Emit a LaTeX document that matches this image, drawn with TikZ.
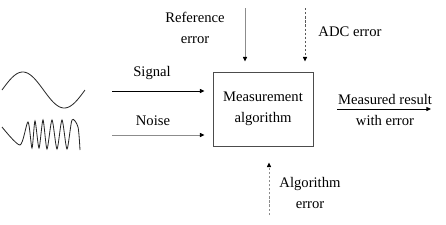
\documentclass[tikz,border=0pt]{standalone}
\usepackage{fontspec}
\setmainfont{Liberation Serif}
\usetikzlibrary{arrows.meta, positioning}
\tikzset{
  algobox/.style={rectangle, draw=black!70, thick, fill=white,
                  minimum width=3cm, minimum height=2.22cm,
                  inner sep=2pt, align=center},
  arr/.style={-{Triangle[length=4pt, width=3.5pt, color=black]}, thick, black},
  greyarr/.style={arr, black!45},
  dasharr/.style={arr, black!65, dash pattern=on 2pt off 1.5pt},
  lbl/.style={align=center, inner sep=0pt},
  wave/.style={black!85, line width=0.7pt},
}
\begin{document}
\begin{tikzpicture}[x=0.03cm, y=-0.03cm, font=\fontsize{12.5}{18}\selectfont]
  \useasboundingbox (0,0) rectangle (446,225);
  %% Input waveforms
  \draw[wave] plot[variable=\t, domain=0:1, samples=80]
    ({2 + 83*\t}, {90 - 18*sin(360*\t)});
  \draw[wave] plot[smooth, tension=0.45] coordinates {
    (2,127) (20,145) (28,122) (32,148) (35,121) (39,148) (43,120)
    (47,149) (52,120) (57,149) (62,120) (67,149) (72,120) (78,127) (80,150)};
  %% Measurement block
  \node[algobox] (algo) at (263,109) {Measurement\\algorithm};
  %% Inputs
  \coordinate (sig) at (112,91);
  \coordinate (noi) at (112,135);
  \draw[arr, shorten >=0.24cm] (sig) -- (sig -| algo.west);
  \draw[greyarr, shorten >=0.24cm] (noi) -- (noi -| algo.west);
  \node[lbl] (siglbl) at (152,73) {Signal};
  \node[lbl] (noilbl) at (153,121) {Noise};
  %% Error sources
  \coordinate (referr) at (245,8);
  \coordinate (adcerr) at (305,8);
  \coordinate (algerr) at (269,215);
  \draw[greyarr, shorten >=0.3cm] (referr) -- (referr |- algo.north);
  \draw[dasharr, shorten >=0.3cm] (adcerr) -- (adcerr |- algo.north);
  \draw[dasharr, black!45, shorten >=0.48cm] (algerr) -- (algerr |- algo.south);
  \node[lbl] (reflbl) at (195,28) {Reference\\error};
  \node[lbl] (adclbl) at (350,32) {ADC error};
  \node[lbl] (alglbl) at (310,193) {Algorithm\\error};
  %% Output
  \coordinate (result) at (431,109);
  \draw[arr, shorten <=0.72cm] (algo.east |- result) -- (result);
  \node[lbl] (reslbl) at (385,110) {Measured result\\with error};
\end{tikzpicture}
\end{document}
